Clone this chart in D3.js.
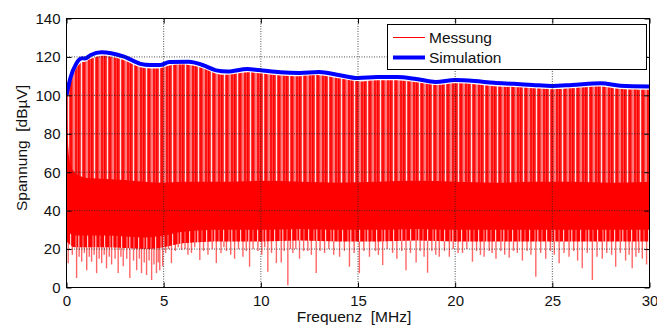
<!DOCTYPE html>
<html>
<head>
<meta charset="utf-8">
<script src="https://cdn.jsdelivr.net/npm/d3@7"></script>
<style>
  body { margin: 0; background: #fff; }
  svg text { font-family: Arial, "Liberation Sans", sans-serif; fill: #111; }
</style>
</head>
<body>
<svg id="chart" width="657" height="327"></svg>
<script>
// --- data ---
// Simulation envelope (blue)
const simFreq = [0, 0.2, 0.5, 0.8, 0.95, 1.25, 1.8, 2.3, 3, 3.8, 4.3, 4.8, 5.3, 6.3, 7, 7.7, 8.3, 9.3, 9.9, 11, 12, 13, 14, 15, 16, 17, 18, 19, 20, 21, 22, 23, 24, 25, 26, 27.5, 28.5, 30];
const simLevel = [100, 109, 116.5, 119.3, 119.2, 121, 122.4, 121.9, 120, 116.4, 115.8, 115.8, 117.3, 117.5, 115.8, 113, 112.4, 113.7, 113.2, 112, 111.7, 112.2, 110.6, 109, 109.5, 109.5, 108.5, 107, 108, 107.5, 106.5, 106, 105.4, 104.9, 105.4, 106.3, 105, 104.6];

// Messung: tops of the harmonic peaks (same frequencies as simFreq)
const peakLevel = [99, 106, 114, 117.3, 117.4, 119, 120.6, 120.1, 118.2, 114.6, 114, 114.1, 115.6, 115.8, 114.1, 111.3, 110.7, 112, 111.5, 110.3, 110, 110.5, 108.9, 107.3, 107.8, 107.8, 106.8, 105.4, 106.3, 105.8, 104.8, 104.3, 103.7, 103.2, 103.7, 104.6, 103.3, 102.9];

// Messung: solid noise band
const bandFreq = [0, 0.1, 0.2, 0.4, 0.7, 1, 2, 3, 4, 5, 6, 8, 10, 12, 14, 16, 18, 20, 22, 24, 26, 28, 30];
const bandTop = [95, 72, 64, 60, 58, 57, 56.5, 56, 55, 54.5, 55, 55, 55.5, 55, 54.5, 55, 55.5, 55, 54.5, 55, 55, 54.5, 55];
const bandBottom = [24, 23, 22, 21, 21, 21, 21, 20.5, 20, 21, 23, 24, 24, 24.5, 24, 24, 24.5, 24, 24, 24, 24, 24, 24];

// Messung: single deep dips below the band
const dipFreq = [0.09, 0.3, 0.52, 0.65, 0.78, 0.92, 1.04, 1.17, 1.29, 1.42, 1.55, 1.68, 1.81, 1.94, 2.06, 2.2, 2.32, 2.5, 2.66, 2.8, 2.92, 3.1, 3.26, 3.45, 3.61, 3.75, 3.86, 4.0, 4.12, 4.25, 4.38, 4.5, 4.63, 4.72, 4.8, 4.95,
  5.1, 5.25, 5.4, 5.6, 5.75, 5.92, 6.1, 6.25, 6.43, 6.6, 6.86, 7.05, 7.28, 7.5, 7.71, 7.95, 8.1, 8.23, 8.45, 8.65, 8.85, 9.08, 9.25, 9.42, 9.6, 9.85,
  10.05, 10.2, 10.36, 10.55, 10.8, 11.05, 11.2, 11.39, 11.52, 11.65, 11.8, 11.99, 12.2, 12.42, 12.6, 12.85, 13.05, 13.28, 13.5, 13.75, 14.05, 14.3, 14.56, 14.8,
  15.07, 15.3, 15.59, 15.9, 16.05, 16.27, 16.5, 16.78, 17.0, 17.25, 17.47, 17.7, 17.99, 18.2, 18.4, 18.58, 18.8, 19.0, 19.18, 19.45, 19.7, 19.9,
  20.15, 20.38, 20.6, 20.89, 21.1, 21.3, 21.49, 21.75, 21.9, 22.1, 22.35, 22.55, 22.78, 23.0, 23.2, 23.46, 23.7, 23.9, 24.15, 24.4, 24.66, 24.9,
  25.1, 25.35, 25.6, 25.86, 26.1, 26.3, 26.54, 26.8, 27.06, 27.3, 27.57, 27.8, 28.05, 28.26, 28.5, 28.77, 28.95, 29.11, 29.3, 29.45, 29.63, 29.85];
const dipLevel = [12.6, 17, 4.9, 16, 13.4, 18, 9, 16, 13.4, 17, 7.5, 15, 12.7, 17, 10, 16, 12, 15, 7.5, 16, 11, 15, 4.9, 14, 9, 15, 7.5, 13, 6.5, 14, 3.9, 12, 7.5, 13, 9, 11,
  18, 20, 12.7, 19, 21, 19.5, 20, 17, 18, 21, 14.3, 19, 17, 20, 12.7, 18, 21, 19, 17, 15, 20, 16, 19, 10.8, 20, 19,
  17, 21, 8.2, 18, 12.7, 13, 19, 1.2, 20, 18, 20, 15, 19, 19, 17, 7.5, 19, 18, 20, 17, 16, 19, 10.8, 18,
  7.5, 19, 16, 19, 17, 11.7, 20, 18, 15, 19, 9, 18, 13, 19, 16, 7.7, 19, 17, 16, 19, 16, 20,
  18, 18, 20, 13.4, 19, 17, 16, 19, 18, 15, 19, 17, 15.5, 19, 18, 14, 19, 17, 5.6, 18, 15, 19,
  17, 12.6, 18, 16, 19, 14, 10, 18, 3.9, 16, 15, 18, 17, 10.8, 18, 14, 17, 10, 16, 18, 15, 12];

const xTicks = [0, 5, 10, 15, 20, 25, 30];
const yTicks = [0, 20, 40, 60, 80, 100, 120, 140];
const seriesNames = ["Messung", "Simulation"];

// --- layout ---
const svg = d3.select("#chart");
const plotLeft = 66.5, plotRight = 649.5, plotTop = 18.5, plotBottom = 287.5;

const x = d3.scaleLinear().domain([0, 30]).range([plotLeft, plotRight]);
const y = d3.scaleLinear().domain([0, 140]).range([plotBottom, plotTop]);

const defs = svg.append("defs");
defs.append("clipPath").attr("id", "plotClip")
  .append("rect").attr("x", plotLeft).attr("y", plotTop)
  .attr("width", plotRight - plotLeft).attr("height", plotBottom - plotTop);

// stripe texture for the dense harmonic lines
const pat = defs.append("pattern").attr("id", "harm")
  .attr("patternUnits", "userSpaceOnUse").attr("width", 13).attr("height", 10);
pat.append("rect").attr("width", 13).attr("height", 10).attr("fill", "#ff4040");
pat.append("rect").attr("x", 0).attr("width", 1.6).attr("height", 10).attr("fill", "#ff0000");
pat.append("rect").attr("x", 3).attr("width", 1).attr("height", 10).attr("fill", "#ffffff").attr("opacity", 0.85);
pat.append("rect").attr("x", 5).attr("width", 2).attr("height", 10).attr("fill", "#ff0d0d");
pat.append("rect").attr("x", 8.5).attr("width", 1).attr("height", 10).attr("fill", "#ffb3b3");
pat.append("rect").attr("x", 10.3).attr("width", 1.4).attr("height", 10).attr("fill", "#ff0000");

// ragged fringe texture at the lower edge of the noise band
const fringe = defs.append("pattern").attr("id", "fringe")
  .attr("patternUnits", "userSpaceOnUse").attr("width", 17).attr("height", 10);
fringe.append("rect").attr("width", 17).attr("height", 10).attr("fill", "#ff0000");
fringe.append("rect").attr("x", 2).attr("width", 1.2).attr("height", 10).attr("fill", "#ffffff").attr("opacity", 0.8);
fringe.append("rect").attr("x", 7.5).attr("width", 1).attr("height", 10).attr("fill", "#ff9a9a");
fringe.append("rect").attr("x", 10).attr("width", 1.5).attr("height", 10).attr("fill", "#ffffff").attr("opacity", 0.6);
fringe.append("rect").attr("x", 14.5).attr("width", 1).attr("height", 10).attr("fill", "#ff8080");

const plot = svg.append("g").attr("clip-path", "url(#plotClip)");

// harmonic peaks region (band top up to peak envelope)
const peakArea = d3.area()
  .x(d => x(d[0]))
  .y0(y(50))
  .y1(d => y(d[1]))
  .curve(d3.curveCatmullRom);
plot.append("path")
  .datum(simFreq.map((f, i) => [f, peakLevel[i]]))
  .attr("d", peakArea)
  .attr("fill", "url(#harm)");

// dips below the noise band
plot.selectAll(".dip")
  .data(dipFreq.map((f, i) => [f, dipLevel[i]]))
  .enter()
  .append("line")
  .attr("class", "dip")
  .attr("x1", d => x(d[0]))
  .attr("x2", d => x(d[0]))
  .attr("y1", y(28))
  .attr("y2", d => y(d[1]))
  .attr("stroke", "#ff0000")
  .attr("stroke-width", 1.4)
  .attr("opacity", 0.6);

const bandData = bandFreq.map((f, i) => [f, bandTop[i], bandBottom[i]]);

// lower fringe of the band
plot.append("path")
  .datum(bandData)
  .attr("d", d3.area()
    .x(d => x(d[0]))
    .y0(d => y(d[2]))
    .y1(d => y(d[2] + 7))
    .curve(d3.curveMonotoneX))
  .attr("fill", "url(#fringe)");

// solid noise band
plot.append("path")
  .datum(bandData)
  .attr("d", d3.area()
    .x(d => x(d[0]))
    .y0(d => y(d[2] + 6))
    .y1(d => y(d[1]))
    .curve(d3.curveMonotoneX))
  .attr("fill", "#ff0000");

// grid (dotted, drawn over the measurement)
const grid = svg.append("g");
grid.selectAll(".vg").data(xTicks.slice(1, -1)).enter().append("line")
  .attr("x1", d => x(d)).attr("x2", d => x(d))
  .attr("y1", plotTop).attr("y2", plotBottom)
  .attr("stroke", "#222").attr("stroke-width", 0.8).attr("stroke-dasharray", "1,1.5");
grid.selectAll(".hg").data(yTicks.slice(1, -1)).enter().append("line")
  .attr("x1", plotLeft).attr("x2", plotRight)
  .attr("y1", d => y(d)).attr("y2", d => y(d))
  .attr("stroke", "#222").attr("stroke-width", 0.8).attr("stroke-dasharray", "1,1.5");

// simulation line
const simLine = d3.line()
  .x(d => x(d[0]))
  .y(d => y(d[1]))
  .curve(d3.curveMonotoneX);
plot.append("path")
  .datum(simFreq.map((f, i) => [f, simLevel[i]]))
  .attr("d", simLine)
  .attr("fill", "none")
  .attr("stroke", "#0000ff")
  .attr("stroke-width", 4)
  .attr("stroke-linejoin", "round");

// axes, ticks pointing inward
const fontSize = "15px";
svg.append("g").attr("transform", `translate(0,${plotBottom})`)
  .call(d3.axisBottom(x).tickValues(xTicks).tickSize(-5).tickPadding(8).tickSizeOuter(0))
  .call(g => g.selectAll("text").style("font-size", fontSize));
svg.append("g").attr("transform", `translate(0,${plotTop})`)
  .call(d3.axisTop(x).tickValues(xTicks).tickSize(-5).tickFormat("").tickSizeOuter(0));
svg.append("g").attr("transform", `translate(${plotLeft},0)`)
  .call(d3.axisLeft(y).tickValues(yTicks).tickSize(-5).tickPadding(6).tickSizeOuter(0))
  .call(g => g.selectAll("text").style("font-size", fontSize));
svg.append("g").attr("transform", `translate(${plotRight},0)`)
  .call(d3.axisRight(y).tickValues(yTicks).tickSize(-5).tickFormat("").tickSizeOuter(0));
svg.selectAll(".domain").remove();
svg.selectAll(".tick line").attr("stroke", "#000");

svg.append("rect")
  .attr("x", plotLeft).attr("y", plotTop)
  .attr("width", plotRight - plotLeft).attr("height", plotBottom - plotTop)
  .attr("fill", "none").attr("stroke", "#000").attr("stroke-width", 1);

// axis titles
svg.append("text")
  .attr("x", 354).attr("y", 322)
  .attr("text-anchor", "middle")
  .attr("xml:space", "preserve")
  .style("font-size", "15.5px")
  .text("Frequenz  [MHz]");
svg.append("text")
  .attr("transform", "translate(27,148) rotate(-90)")
  .attr("text-anchor", "middle")
  .attr("xml:space", "preserve")
  .style("font-size", "15.5px")
  .text("Spannung  [dB\u00b5V]");

// legend
const legend = svg.append("g");
legend.append("rect")
  .attr("x", 387.5).attr("y", 24.5).attr("width", 259).attr("height", 45)
  .attr("fill", "#fff").attr("stroke", "#000").attr("stroke-width", 1);
const legendStyle = [
  { color: "#ff0000", width: 1, y: 37.5 },
  { color: "#0000ff", width: 4, y: 57.5 }
];
seriesNames.forEach((name, i) => {
  const s = legendStyle[i];
  legend.append("line")
    .attr("x1", 393).attr("x2", 425)
    .attr("y1", s.y).attr("y2", s.y)
    .attr("stroke", s.color).attr("stroke-width", s.width);
  legend.append("text")
    .attr("x", 429).attr("y", s.y + 5.5)
    .style("font-size", "15.5px")
    .text(name);
});
</script>
</body>
</html>
